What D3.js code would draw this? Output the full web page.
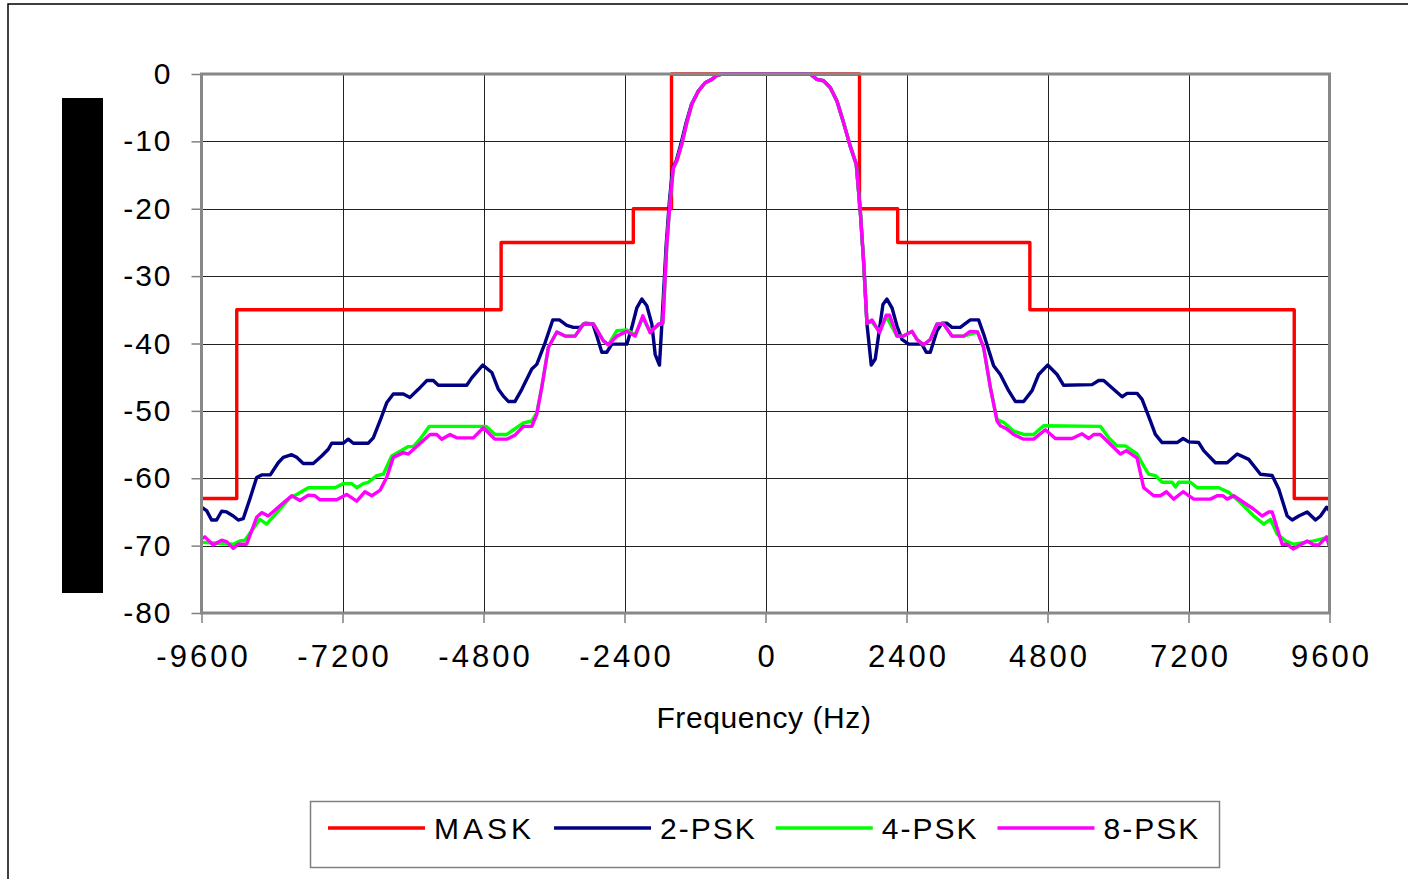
<!DOCTYPE html>
<meta charset="utf-8">
<style>
    body { margin: 0; background: #fff; }
    svg { font-family: "Liberation Sans", Arial, sans-serif; display: block; }
    .grid line { stroke: #222; stroke-width: 1; shape-rendering: crispEdges; }
    .grid path { display: none; }
    .axis path { display: none; }
    .axis line { stroke: #808080; stroke-width: 1.5; }
    .axis text { fill: #000; }
</style>
<body>
<script src="https://d3js.org/d3.v7.min.js"></script>
<script>
    // values: [frequency Hz, level dB]
    const maskPts = [[-9600,-63],[-9000,-63],[-9000,-35],[-4500,-35],[-4500,-25],[-2250,-25],[-2250,-20],
        [-1600,-20],[-1600,0],[1600,0],[1600,-20],[2250,-20],[2250,-25],[4500,-25],[4500,-35],
        [9000,-35],[9000,-63],[9600,-63]];

    const psk2 = [[-9600,-64.3],[-9513,-64.8],[-9428,-66.2],[-9343,-66.2],[-9257,-64.9],[-9172,-65.0],
        [-9060,-65.6],[-8975,-66.2],[-8890,-66.0],[-8770,-62.9],[-8661,-59.9],[-8576,-59.5],[-8429,-59.5],
        [-8294,-57.7],[-8208,-56.9],[-8065,-56.5],[-7980,-56.9],[-7868,-57.8],[-7698,-57.8],[-7555,-56.7],
        [-7442,-55.7],[-7384,-54.8],[-7187,-54.8],[-7102,-54.2],[-7016,-54.8],[-6761,-54.8],[-6676,-54.0],
        [-6562,-51.5],[-6448,-48.8],[-6335,-47.5],[-6165,-47.5],[-6051,-48.0],[-5909,-46.8],[-5766,-45.5],
        [-5654,-45.5],[-5569,-46.2],[-5085,-46.2],[-5000,-45.1],[-4813,-43.2],[-4659,-44.3],[-4547,-46.8],
        [-4462,-47.8],[-4377,-48.6],[-4263,-48.6],[-4148,-46.8],[-3978,-43.8],[-3893,-43.1],[-3752,-39.9],
        [-3621,-36.5],[-3508,-36.5],[-3382,-37.3],[-3270,-37.6],[-3156,-37.6],[-3070,-37.0],[-2939,-37.1],
        [-2871,-38.9],[-2786,-41.3],[-2701,-41.3],[-2616,-40.1],[-2360,-40.1],[-2275,-37.6],[-2190,-34.7],
        [-2105,-33.4],[-2020,-34.4],[-1935,-37.1],[-1878,-41.6],[-1805,-43.2],[-1764,-37.1],[-1690,-25.3],
        [-1635,-18.8],[-1580,-13.9],[-1520,-12.9],[-1440,-10.4],[-1350,-7.2],[-1260,-4.5],[-1141,-2.5],
        [-1027,-1.3],[-913,-0.8],[-828,-0.2],[-737,0],[760,0],[875,-0.8],[988,-1.0],[1102,-2.0],
        [1216,-4.0],[1328,-7.2],[1442,-10.7],[1545,-13.4],[1613,-20.3],[1669,-27.7],[1727,-37.1],
        [1800,-43.2],[1868,-42.3],[1999,-34.2],[2067,-33.4],[2153,-34.7],[2238,-37.4],[2323,-39.4],
        [2435,-40.1],[2663,-40.1],[2737,-41.3],[2805,-41.3],[2919,-38.1],[3004,-37.0],[3089,-37.0],
        [3174,-37.6],[3316,-37.6],[3486,-36.5],[3627,-36.5],[3713,-38.6],[3883,-43.3],[3997,-44.6],
        [4138,-47.0],[4252,-48.6],[4394,-48.6],[4537,-47.0],[4649,-44.6],[4802,-43.2],[4963,-44.6],
        [5075,-46.2],[5559,-46.1],[5671,-45.5],[5756,-45.5],[6070,-47.9],[6155,-47.4],[6325,-47.4],
        [6410,-48.3],[6551,-51.5],[6636,-53.5],[6751,-54.7],[7006,-54.7],[7108,-54.1],[7204,-54.6],
        [7374,-54.7],[7459,-55.9],[7658,-57.7],[7858,-57.7],[8028,-56.4],[8225,-57.2],[8425,-59.4],
        [8624,-59.6],[8736,-61.6],[8880,-65.6],[8965,-66.2],[9077,-65.6],[9220,-65.0],[9362,-66.2],
        [9447,-65.6],[9549,-64.3],[9600,-64.8]];

    const psk4 = [[-9600,-69.5],[-9060,-69.8],[-8946,-69.3],[-8861,-69.2],[-8606,-66.1],[-8491,-66.8],
        [-8095,-62.9],[-7980,-62.4],[-7783,-61.4],[-7328,-61.4],[-7187,-60.8],[-7044,-60.8],[-6958,-61.4],
        [-6846,-60.8],[-6761,-60.6],[-6618,-59.6],[-6505,-59.4],[-6362,-56.7],[-6221,-56.0],[-6080,-55.3],
        [-5995,-55.3],[-5881,-54.2],[-5722,-52.3],[-4757,-52.3],[-4603,-53.5],[-4404,-53.5],[-4121,-51.8],
        [-3978,-51.5],[-3893,-50.3],[-3808,-46.5],[-3696,-40.6],[-3552,-38.3],[-3411,-38.9],[-3241,-38.9],
        [-3099,-37.1],[-2929,-37.1],[-2759,-39.6],[-2674,-40.2],[-2531,-38.1],[-2360,-38.0],[-2219,-38.7],
        [-2088,-36.2],[-1964,-38.2],[-1822,-37.3],[-1747,-37.0],[-1679,-25.3],[-1623,-18.8],[-1567,-13.9],
        [-1509,-12.9],[-1424,-10.4],[-1339,-7.2],[-1253,-4.5],[-1141,-2.5],[-1027,-1.3],[-913,-0.8],
        [-828,-0.2],[-737,0],[760,0],[875,-0.8],[988,-1.0],[1102,-2.0],[1216,-4.0],[1328,-7.2],
        [1442,-10.7],[1545,-13.4],[1613,-20.3],[1669,-27.7],[1727,-37.0],[1812,-36.8],[1941,-38.2],
        [2056,-36.0],[2238,-38.9],[2350,-38.9],[2493,-38.2],[2578,-39.4],[2691,-40.2],[2805,-39.4],
        [2919,-37.1],[3031,-37.1],[3174,-38.9],[3372,-38.9],[3486,-38.6],[3610,-38.3],[3713,-40.6],
        [3827,-46.5],[3941,-51.3],[4053,-51.7],[4223,-53.0],[4394,-53.5],[4564,-53.5],[4734,-52.2],
        [5700,-52.3],[5841,-54.0],[5984,-55.2],[6126,-55.2],[6325,-56.4],[6437,-58.2],[6522,-59.4],
        [6636,-59.6],[6751,-60.6],[6921,-60.6],[6977,-61.3],[7033,-60.6],[7232,-60.6],[7347,-61.4],
        [7715,-61.4],[7885,-62.1],[8084,-63.6],[8311,-65.6],[8481,-66.8],[8595,-66.1],[8709,-68.3],
        [8851,-69.3],[8992,-69.8],[9333,-69.3],[9561,-68.8],[9600,-69.7]];

    const psk8 = [[-9600,-69.0],[-9542,-68.7],[-9401,-69.9],[-9257,-69.2],[-9172,-69.4],[-9060,-70.4],
        [-8975,-69.8],[-8832,-69.8],[-8661,-65.8],[-8576,-65.1],[-8464,-65.6],[-8265,-64.1],[-8065,-62.6],
        [-7924,-63.3],[-7783,-62.5],[-7669,-62.6],[-7583,-63.2],[-7299,-63.2],[-7129,-62.4],[-6958,-63.4],
        [-6817,-62.0],[-6703,-62.6],[-6562,-61.8],[-6448,-59.9],[-6335,-56.9],[-6165,-56.2],[-6080,-56.4],
        [-5937,-55.3],[-5710,-53.5],[-5596,-53.5],[-5511,-54.2],[-5370,-53.5],[-5256,-54.0],[-4973,-54.0],
        [-4802,-52.5],[-4688,-53.5],[-4603,-54.2],[-4404,-54.2],[-4263,-53.6],[-4121,-52.3],[-3978,-52.3],
        [-3893,-50.5],[-3808,-46.5],[-3696,-40.6],[-3552,-38.3],[-3411,-38.9],[-3241,-38.9],[-3099,-37.1],
        [-2929,-37.1],[-2759,-39.6],[-2674,-40.2],[-2531,-38.9],[-2360,-38.2],[-2219,-38.9],[-2088,-35.9],
        [-1964,-38.4],[-1822,-37.1],[-1747,-37.0],[-1679,-25.3],[-1623,-18.8],[-1567,-13.9],[-1509,-12.9],
        [-1424,-10.4],[-1339,-7.2],[-1253,-4.5],[-1141,-2.5],[-1027,-1.3],[-913,-0.8],[-828,-0.2],
        [-737,0],[760,0],[875,-0.8],[988,-1.0],[1102,-2.0],[1216,-4.0],[1328,-7.2],[1442,-10.7],
        [1545,-13.4],[1613,-20.3],[1669,-27.7],[1727,-37.0],[1812,-36.5],[1941,-38.4],[2056,-35.8],
        [2112,-35.8],[2238,-38.9],[2350,-38.9],[2493,-38.2],[2578,-39.4],[2691,-40.2],[2805,-39.4],
        [2919,-37.1],[3031,-37.1],[3174,-38.9],[3372,-38.9],[3486,-38.2],[3610,-38.3],[3713,-40.6],
        [3827,-46.5],[3941,-51.5],[3997,-52.2],[4111,-52.7],[4223,-53.5],[4394,-54.2],[4564,-54.2],
        [4763,-52.8],[4934,-54.1],[5218,-54.1],[5388,-53.4],[5501,-54.1],[5586,-53.5],[5700,-53.5],
        [6041,-56.4],[6143,-55.9],[6325,-57.0],[6437,-61.4],[6608,-62.6],[6722,-62.6],[6824,-62.0],
        [6948,-63.1],[7108,-62.0],[7289,-63.1],[7573,-63.1],[7687,-62.6],[7789,-62.6],[7858,-63.1],
        [7970,-62.6],[8140,-63.6],[8311,-64.6],[8454,-65.6],[8566,-65.0],[8624,-65.0],[8794,-69.8],
        [8880,-69.8],[8982,-70.5],[9220,-69.3],[9333,-69.9],[9418,-69.9],[9549,-68.7],[9600,-70.2]];

    const seriesNames = ["MASK", "2-PSK", "4-PSK", "8-PSK"];
    const seriesColors = ["#ff0000", "#000080", "#00ff00", "#ff00ff"];
    const xTicks = [-9600, -7200, -4800, -2400, 0, 2400, 4800, 7200, 9600];
    const yTicks = [0, -10, -20, -30, -40, -50, -60, -70, -80];
    const xTitle = "Frequency (Hz)";

    const W = 1408, H = 879;
    const plot = {left: 201.5, right: 1329.5, top: 74, bottom: 613};

    const svg = d3.select("body").append("svg")
        .attr("width", W)
        .attr("height", H);

    // outer frame (left and top edges are the only ones inside the picture)
    svg.append("rect")
        .attr("x", 8).attr("y", 4)
        .attr("width", W + 20).attr("height", H + 20)
        .attr("fill", "#fff")
        .attr("stroke", "#000")
        .attr("stroke-width", 1.5);

    const x = d3.scaleLinear().domain([-9600, 9600]).range([plot.left, plot.right]);
    const y = d3.scaleLinear().domain([-80, 0]).range([plot.bottom, plot.top]);

    // grid
    svg.append("g")
        .attr("class", "grid")
        .attr("transform", "translate(" + plot.left + ",0)")
        .call(d3.axisLeft(y).tickValues(yTicks.slice(1, -1)).tickSize(-(plot.right - plot.left)).tickFormat(""));
    svg.append("g")
        .attr("class", "grid")
        .attr("transform", "translate(0," + plot.bottom + ")")
        .call(d3.axisBottom(x).tickValues(xTicks.slice(1, -1)).tickSize(-(plot.bottom - plot.top)).tickFormat(""));

    // axes
    const yAxis = svg.append("g")
        .attr("class", "axis")
        .attr("transform", "translate(" + plot.left + ",0)")
        .call(d3.axisLeft(y).tickValues(yTicks).tickSize(10).tickPadding(19).tickFormat(d => d));
    yAxis.selectAll("text")
        .style("font-size", "30px")
        .style("letter-spacing", "2px");

    const xAxis = svg.append("g")
        .attr("class", "axis")
        .attr("transform", "translate(0," + plot.bottom + ")")
        .call(d3.axisBottom(x).tickValues(xTicks).tickSize(10).tickPadding(22).tickFormat(d => d));
    xAxis.selectAll("text")
        .style("font-size", "31px")
        .style("letter-spacing", "3px")
        .attr("dx", "1.5px");

    svg.append("text")
        .attr("x", 764)
        .attr("y", 728)
        .attr("text-anchor", "middle")
        .style("font-size", "30px")
        .style("letter-spacing", "0.6px")
        .text(xTitle);

    // hidden y title block
    svg.append("rect")
        .attr("x", 62).attr("y", 98)
        .attr("width", 41).attr("height", 495)
        .attr("fill", "#000");

    // lines
    svg.append("clipPath").attr("id", "clip")
        .append("rect")
        .attr("x", plot.left).attr("y", plot.top - 2)
        .attr("width", plot.right - plot.left).attr("height", plot.bottom - plot.top + 4);

    const line = d3.line().x(d => x(d[0])).y(d => y(d[1]));
    const allSeries = [maskPts, psk2, psk4, psk8];

    svg.append("g")
        .attr("clip-path", "url(#clip)")
        .selectAll("path")
        .data(allSeries)
        .enter().append("path")
        .attr("d", line)
        .attr("fill", "none")
        .attr("stroke", (d, i) => seriesColors[i])
        .attr("stroke-width", 3.4)
        .attr("stroke-linejoin", "round");

    // plot border
    svg.append("rect")
        .attr("x", plot.left).attr("y", plot.top)
        .attr("width", plot.right - plot.left).attr("height", plot.bottom - plot.top)
        .attr("fill", "none")
        .attr("stroke", "#888")
        .attr("stroke-width", 3);

    // legend
    const legend = svg.append("g").attr("class", "legend");
    legend.append("rect")
        .attr("x", 310.5).attr("y", 801.5)
        .attr("width", 909).attr("height", 66)
        .attr("fill", "#fff")
        .attr("stroke", "#808080")
        .attr("stroke-width", 1.5);

    let lx = 328;
    seriesNames.forEach((name, i) => {
        legend.append("line")
            .attr("x1", lx).attr("x2", lx + 97)
            .attr("y1", 828).attr("y2", 828)
            .attr("stroke", seriesColors[i])
            .attr("stroke-width", 3.4);
        const t = legend.append("text")
            .attr("x", lx + 106)
            .attr("y", 839)
            .style("font-size", "30px")
            .style("letter-spacing", name === "MASK" ? "4px" : "2px")
            .text(name);
        lx = lx + 106 + t.node().getComputedTextLength() + 19;
    });
</script>
</body>
